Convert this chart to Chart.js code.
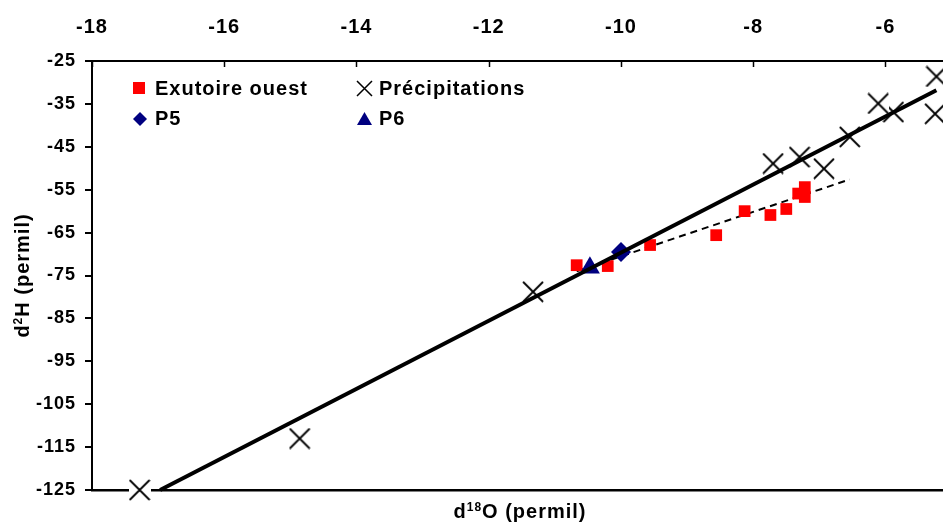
<!DOCTYPE html>
<html>
<head>
<meta charset="utf-8">
<script src="https://cdn.jsdelivr.net/npm/chart.js@4.4.1/dist/chart.umd.min.js"></script>
<style>
  html, body { margin: 0; padding: 0; background: #fff; }
  #wrap { width: 943px; height: 522px; position: relative; }
</style>
</head>
<body>
<div id="wrap"><canvas id="myChart"></canvas></div>
<script>
//Data
let xTicks = [-18, -16, -14, -12, -10, -8, -6];
let yTicks = [-125, -115, -105, -95, -85, -75, -65, -55, -45, -35, -25];

let exutoireX = [-10.67, -10.20, -9.56, -8.56, -8.13, -7.74, -7.50, -7.32, -7.22, -7.22];
let exutoireY = [-72.6, -72.8, -67.9, -65.6, -60.0, -60.9, -59.5, -55.9, -54.4, -56.7];

let precipX = [-17.28, -14.86, -11.33, -7.70, -7.30, -6.93, -6.54, -5.88, -6.11, -5.23, -5.25];
let precipY = [-125.0, -113.0, -78.8, -48.9, -47.4, -50.1, -42.7, -36.9, -34.9, -28.6, -37.3];

let p5X = [-10.0];
let p5Y = [-69.5];
let p6X = [-10.47];
let p6Y = [-73.2];

// droite des precipitations (trait plein) et droite de l'exutoire (pointilles)
let gmwlX = [-16.97, -5.23];
let gmwlY = [-125, -31.8];
let lmwlX = [-10.67, -6.54];
let lmwlY = [-74.0, -52.6];

let xMin = -18, xMax = -5.13;
let yMin = -125, yMax = -25;

//Helpers
const FONT = '"Liberation Sans", Arial, sans-serif';
function pts(xs, ys) { return xs.map((x, i) => ({ x: x, y: ys[i] })); }

// X marker with white background, like the Excel one
function makeCross(size, lw) {
  let c = document.createElement('canvas');
  c.width = size; c.height = size;
  let g = c.getContext('2d');
  g.fillStyle = '#fff';
  g.fillRect(0, 0, size, size);
  g.strokeStyle = '#000';
  g.lineWidth = lw;
  g.beginPath();
  g.moveTo(1, 1); g.lineTo(size - 1, size - 1);
  g.moveTo(size - 1, 1); g.lineTo(1, size - 1);
  g.stroke();
  return c;
}
let crossImg = makeCross(22, 1.8);

function drawSup(ctx, parts, x, y, size) {
  let big = 'bold ' + size + 'px ' + FONT;
  let small = 'bold 12px ' + FONT;
  let w = 0;
  parts.forEach(p => { ctx.font = p[1] ? small : big; w += ctx.measureText(p[0]).width; });
  let cx = x - w / 2;
  parts.forEach(p => {
    ctx.font = p[1] ? small : big;
    ctx.fillText(p[0], cx, p[1] ? y - 7 : y);
    cx += ctx.measureText(p[0]).width;
  });
}

let extras = {
  id: 'extras',
  beforeDraw(chart) {
    chart.ctx.letterSpacing = '1px';
  },
  afterDraw(chart) {
    const ctx = chart.ctx;
    const a = chart.chartArea;
    const sx = chart.scales.x;
    ctx.save();
    ctx.letterSpacing = '1px';

    // inner tick marks on the top axis
    ctx.strokeStyle = '#000';
    ctx.lineWidth = 1.5;
    xTicks.forEach(v => {
      let px = Math.round(sx.getPixelForValue(v)) + 0.5;
      ctx.beginPath();
      ctx.moveTo(px, a.top);
      ctx.lineTo(px, a.top + 6);
      ctx.stroke();
    });

    // legend
    ctx.fillStyle = '#ff0000';
    ctx.fillRect(133, 82, 12, 12);

    ctx.strokeStyle = '#000';
    ctx.lineWidth = 1.5;
    ctx.beginPath();
    ctx.moveTo(357, 81); ctx.lineTo(372, 96);
    ctx.moveTo(372, 81); ctx.lineTo(357, 96);
    ctx.stroke();

    ctx.fillStyle = '#000080';
    ctx.beginPath();
    ctx.moveTo(140, 112); ctx.lineTo(147, 119); ctx.lineTo(140, 126); ctx.lineTo(133, 119);
    ctx.closePath();
    ctx.fill();

    ctx.beginPath();
    ctx.moveTo(364.5, 112); ctx.lineTo(372, 125); ctx.lineTo(357, 125);
    ctx.closePath();
    ctx.fill();

    ctx.fillStyle = '#000';
    ctx.font = 'bold 20px ' + FONT;
    ctx.textAlign = 'left';
    ctx.textBaseline = 'alphabetic';
    ctx.fillText('Exutoire ouest', 155, 95);
    ctx.fillText('Précipitations', 379, 95);
    ctx.fillText('P5', 155, 125);
    ctx.fillText('P6', 379, 125);

    // axis titles
    drawSup(ctx, [['d', false], ['18', true], ['O (permil)', false]], 520, 518, 20);
    ctx.translate(29, (a.top + a.bottom) / 2);
    ctx.rotate(-Math.PI / 2);
    drawSup(ctx, [['d', false], ['2', true], ['H (permil)', false]], 0, 0, 20);
    ctx.restore();
  }
};

var ctx = document.getElementById('myChart').getContext('2d');
var myChart = new Chart(ctx, {
  type: 'scatter',
  data: {
    datasets: [
      {
        label: 'GMWL',
        data: pts(gmwlX, gmwlY),
        showLine: true,
        borderColor: '#000',
        borderWidth: 4,
        pointRadius: 0,
        order: 0,
        clip: false
      },
      {
        label: 'P6',
        data: pts(p6X, p6Y),
        pointStyle: 'triangle',
        pointRadius: 11.5,
        backgroundColor: '#000080',
        borderWidth: 0,
        order: 1,
        clip: false
      },
      {
        label: 'P5',
        data: pts(p5X, p5Y),
        pointStyle: 'rectRot',
        pointRadius: 10,
        backgroundColor: '#000080',
        borderWidth: 0,
        order: 2,
        clip: false
      },
      {
        label: 'Exutoire ouest',
        data: pts(exutoireX, exutoireY),
        pointStyle: 'rect',
        pointRadius: 8.3,
        backgroundColor: '#ff0000',
        borderWidth: 0,
        order: 3,
        clip: false
      },
      {
        label: 'Précipitations',
        data: pts(precipX, precipY),
        pointStyle: crossImg,
        pointRadius: 11,
        order: 4,
        clip: false
      },
      {
        label: 'Exutoire',
        data: pts(lmwlX, lmwlY),
        showLine: true,
        borderColor: '#000',
        borderWidth: 2,
        borderDash: [7, 5],
        pointRadius: 0,
        order: 5,
        clip: false
      }
    ]
  },
  options: {
    responsive: true,
    maintainAspectRatio: false,
    animation: false,
    events: [],
    layout: { padding: 0, autoPadding: false },
    plugins: {
      legend: { display: false },
      tooltip: { enabled: false }
    },
    scales: {
      x: {
        type: 'linear',
        position: 'top',
        min: xMin,
        max: xMax,
        afterBuildTicks: s => { s.ticks = xTicks.map(v => ({ value: v })); },
        afterFit: s => { s.height = 61; },
        ticks: {
          font: { family: FONT, size: 20, weight: 'bold' },
          color: '#000',
          padding: 22,
          maxRotation: 0
        },
        grid: { drawOnChartArea: false, drawTicks: false },
        border: { display: true, color: '#000', width: 2 }
      },
      x2: {
        type: 'linear',
        position: 'bottom',
        min: xMin,
        max: xMax,
        afterFit: s => { s.height = 32; },
        ticks: { display: false },
        grid: { display: false, drawTicks: false },
        border: { display: true, color: '#000', width: 2.5 }
      },
      y: {
        type: 'linear',
        position: 'left',
        min: yMin,
        max: yMax,
        afterBuildTicks: s => { s.ticks = yTicks.map(v => ({ value: v })); },
        afterFit: s => { s.width = 92; },
        ticks: {
          font: { family: FONT, size: 18, weight: 'bold' },
          color: '#000',
          padding: 9
        },
        grid: { drawOnChartArea: false, drawTicks: true, tickLength: 7, color: '#000', lineWidth: 2 },
        border: { display: true, color: '#000', width: 2 }
      }
    }
  },
  plugins: [extras]
});
</script>
</body>
</html>
